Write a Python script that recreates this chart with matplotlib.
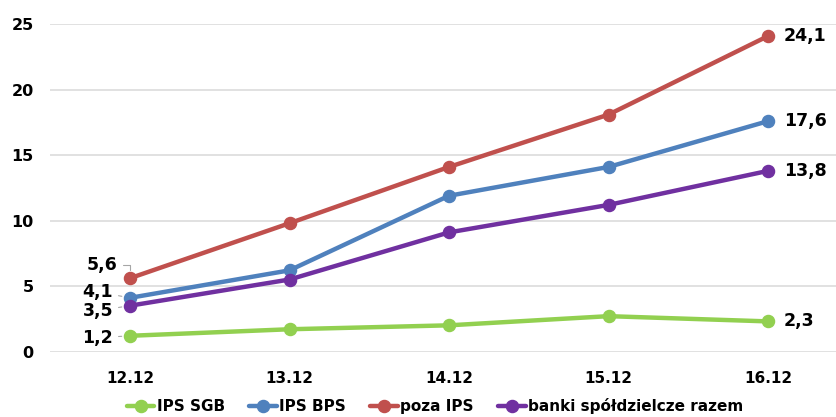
import matplotlib
matplotlib.use("Agg")
import matplotlib.pyplot as plt
import numpy as np

plt.rcParams['font.family'] = ['DejaVu Sans']
plt.rcParams['font.weight'] = 'bold'

categories = ["12.12", "13.12", "14.12", "15.12", "16.12"]
series_names = ["IPS SGB", "IPS BPS", "poza IPS", "banki spółdzielcze razem"]
ips_sgb = [1.2, 1.7, 2.0, 2.7, 2.3]
ips_bps = [4.1, 6.2, 11.9, 14.1, 17.6]
poza_ips = [5.6, 9.8, 14.1, 18.1, 24.1]
banki_razem = [3.5, 5.5, 9.1, 11.2, 13.8]
y_ticks = [0, 5, 10, 15, 20, 25]

colors = ["#92D050", "#4F81BD", "#C0504D", "#7030A0"]
all_series = [ips_sgb, ips_bps, poza_ips, banki_razem]

W, H = 836, 417
fig = plt.figure(figsize=(W / 100, H / 100), dpi=100)
ax = fig.add_axes([50.25 / W, (H - 351.5) / H, (847.75 - 50.25) / W, (351.5 - 24.3) / H])

x = np.arange(len(categories))
handles = []
for vals, col, name in zip(all_series, colors, series_names):
    h, = ax.plot(x, vals, color=col, lw=3.2, marker='o', ms=8.7,
                 solid_capstyle='round', label=name, zorder=3, clip_on=False)
    handles.append(h)

ax.set_xlim(-0.5, len(categories) - 0.5)
ax.set_ylim(0, 25)
ax.set_yticks(y_ticks)
ax.set_xticks(x)
ax.set_xticklabels(categories, fontsize=11, fontweight='bold')
ax.set_yticklabels([str(t) for t in y_ticks], fontsize=11.5, fontweight='bold')
ax.tick_params(length=0)
ax.tick_params(axis='x', pad=14)
ax.tick_params(axis='y', pad=12)
ax.grid(axis='y', color='#D9D9D9', lw=1.1)
ax.set_axisbelow(True)
for s in ax.spines.values():
    s.set_visible(False)

# value labels at the first point, with short leader lines
first_offsets = {
    0: (-17, -2, "arc3"),
    1: (-17, 6, "arc3"),
    2: (-13, 13, "angle,angleA=0,angleB=90,rad=0"),
    3: (-17, -5, "arc3"),
}
for i, vals in enumerate(all_series):
    dx, dy, cs = first_offsets[i]
    ax.annotate(f"{vals[0]:.1f}".replace('.', ','), xy=(0, vals[0]),
                xytext=(dx, dy), textcoords='offset pixels',
                ha='right', va='center', fontsize=12.5, fontweight='bold',
                arrowprops=dict(arrowstyle='-', color='#A6A6A6', lw=0.8,
                                shrinkA=2, shrinkB=6, connectionstyle=cs),
                zorder=4)

# value labels at the last point
for vals in all_series:
    ax.annotate(f"{vals[-1]:.1f}".replace('.', ','), xy=(x[-1], vals[-1]),
                xytext=(16, 0), textcoords='offset pixels',
                ha='left', va='center', fontsize=12.5, fontweight='bold',
                zorder=4, annotation_clip=False)

fig.legend(handles=handles, labels=series_names, loc='center',
           bbox_to_anchor=(435 / W, (H - 406) / H), ncol=4, frameon=False,
           handlelength=1.8, handletextpad=0.15,
           columnspacing=1.6, prop={'weight': 'bold', 'size': 11})

fig.savefig("out.png", dpi=100)
